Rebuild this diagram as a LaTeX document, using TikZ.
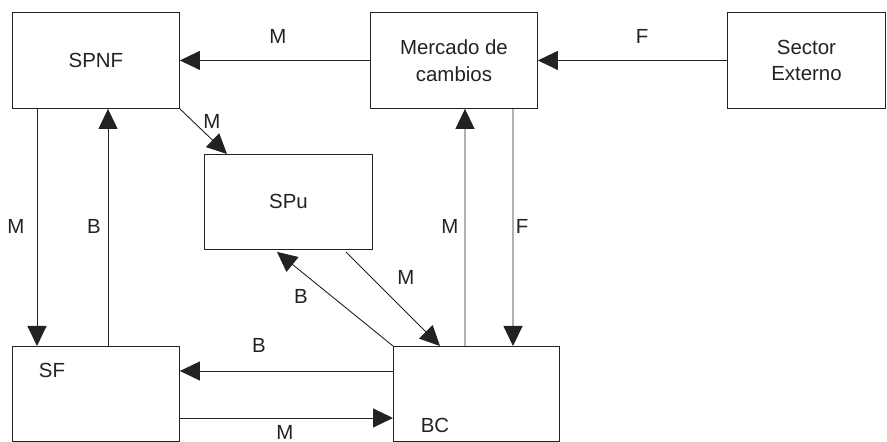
\documentclass[tikz,border=0pt]{standalone}
\usepackage{fontspec}
\setmainfont{Liberation Sans}
\usetikzlibrary{arrows.meta}
\definecolor{ink}{HTML}{222222}
\begin{document}
\begin{tikzpicture}[x=1bp,y=-1bp,
  box/.style 2 args={draw=ink, line width=0.9bp, minimum width=#1, minimum height=#2,
    inner sep=0pt, anchor=north west, align=center,
    font=\fontsize{20.5}{27}\selectfont, text=ink},
  txt/.style={font=\fontsize{20.5}{24}\selectfont, text=ink, inner sep=0pt},
  arr/.style={draw=ink, line width=0.9bp, -{Triangle[length=20bp,width=19bp]}}]
\useasboundingbox (0,0) rectangle (887,442);
% boxes
\node[box={167bp}{96bp}] (spnf) at (12,12) {SPNF};
\node[box={167bp}{96bp}] (mc) at (370,12) {Mercado de\\cambios};
\node[box={158bp}{96bp}] (se) at (727,12) {Sector\\Externo};
\node[box={168bp}{95bp}] (spu) at (204,154) {SPu};
\node[box={167bp}{95bp}] (sf) at (12,346) {};
\node[box={166bp}{95bp}] (bc) at (393,346) {};
\node[txt] (sft) at (52,370) {SF};
\node[txt] (bct) at (435,425) {BC};
% connectors
\draw[arr] (mc.west) -- (spnf.east);
\draw[arr] (se.west) -- (mc.east);
\draw[arr] (spnf.south east) -- ([xshift=23bp]spu.north west);
\draw[arr] ([xshift=25bp]spnf.south west) -- ([xshift=25bp]sf.north west);
\draw[arr] ([xshift=96bp]sf.north west) -- ([xshift=96bp]spnf.south west);
\draw[arr] ([xshift=72bp]bc.north west) -- ([xshift=95bp]mc.south west);
\draw[arr] ([xshift=143bp]mc.south west) -- ([xshift=120bp]bc.north west);
\draw[arr] ([xshift=142bp,yshift=-2bp]spu.south west) -- ([xshift=47bp]bc.north west);
\draw[arr] (bc.north west) -- ([xshift=73bp,yshift=-2bp]spu.south west);
\draw[arr] ([yshift=-25bp]bc.north west) -- ([yshift=-25bp]sf.north east);
\draw[arr] ([yshift=-72bp]sf.north east) -- ([yshift=-72bp]bc.north west);
% labels
\node[txt] (l1) at (278,36) {M};
\node[txt] (l2) at (642,36) {F};
\node[txt] (l3) at (212,121) {M};
\node[txt] (l4) at (16,226) {M};
\node[txt] (l5) at (94,226) {B};
\node[txt] (l6) at (450,226) {M};
\node[txt] (l7) at (522,226) {F};
\node[txt] (l8) at (406,277) {M};
\node[txt] (l9) at (301,296) {B};
\node[txt] (l10) at (259,345) {B};
\node[txt] (l11) at (285,432) {M};
\end{tikzpicture}
\end{document}
